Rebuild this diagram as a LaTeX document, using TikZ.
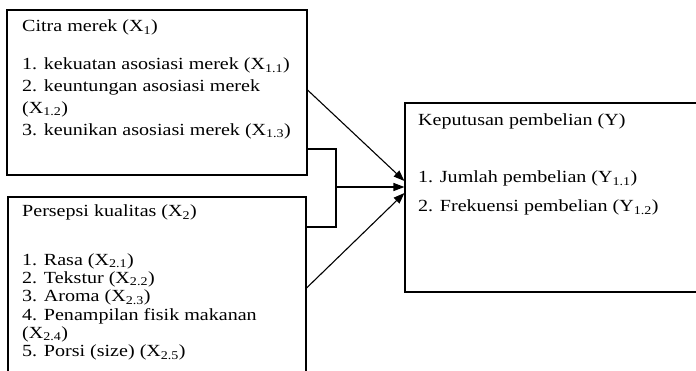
\documentclass[tikz,border=0pt]{standalone}
\usepackage{fontspec}
\setmainfont[FakeStretch=1.18]{Liberation Serif}
\usetikzlibrary{arrows.meta}
\begin{document}
\begin{tikzpicture}[x=1pt,y=-1pt,
  box/.style={draw,line width=1.1pt,rectangle,inner sep=0pt},
  txt/.style={anchor=base west,inner sep=0pt,font=\fontsize{17}{20}\selectfont},
  link/.style={line width=1.1pt},
  arr/.style={line width=1.1pt,-{Triangle[length=11pt,width=8pt]}}]
\useasboundingbox (0,0) rectangle (696,370);
\clip (0,0) rectangle (696,370);
\fill[white] (0,0) rectangle (696,370);
% boxes
\node[box,minimum width=300pt,minimum height=165pt] (b1) at (157,92.5) {};
\node[box,minimum width=298pt,minimum height=203pt] (b2) at (157,298.5) {};
\node[box,minimum width=315pt,minimum height=189pt] (y) at (562.5,197.5) {};
% texts box 1
\node[txt] (t10) at (22,31.5) {Citra merek (X\textsubscript{1})};
\node[txt] (t11) at (22,69.5) {1. kekuatan asosiasi merek (X\textsubscript{1.1})};
\node[txt] (t12) at (22,91) {2. keuntungan asosiasi merek};
\node[txt] (t12b) at (22,113) {(X\textsubscript{1.2})};
\node[txt] (t13) at (22,135) {3. keunikan asosiasi merek (X\textsubscript{1.3})};
% texts box 2
\node[txt] (t20) at (22,216.5) {Persepsi kualitas (X\textsubscript{2})};
\node[txt] (t21) at (22,265) {1. Rasa (X\textsubscript{2.1})};
\node[txt] (t22) at (22,283.3) {2. Tekstur (X\textsubscript{2.2})};
\node[txt] (t23) at (22,301.6) {3. Aroma (X\textsubscript{2.3})};
\node[txt] (t24) at (22,320) {4. Penampilan fisik makanan};
\node[txt] (t24b) at (22,338.3) {(X\textsubscript{2.4})};
\node[txt] (t25) at (22,356.6) {5. Porsi (size) (X\textsubscript{2.5})};
% texts box Y
\node[txt] (ty0) at (418,125.5) {Keputusan pembelian (Y)};
\node[txt] (ty1) at (418,182.5) {1. Jumlah pembelian (Y\textsubscript{1.1})};
\node[txt] (ty2) at (418,211.5) {2. Frekuensi pembelian (Y\textsubscript{1.2})};
% connectors
\coordinate (j) at (336,187);
\draw[link] (b1.east |- 0,149) -| (336,227) -- (b2.east |- 0,227);
\draw[arr] (j) -- (y.west |- j);
\draw[arr] (b1.east |- 0,90) -- (y.west |- 0,181);
\draw[arr] (b2.east |- 0,288) -- (y.west |- 0,193);
\end{tikzpicture}
\end{document}
